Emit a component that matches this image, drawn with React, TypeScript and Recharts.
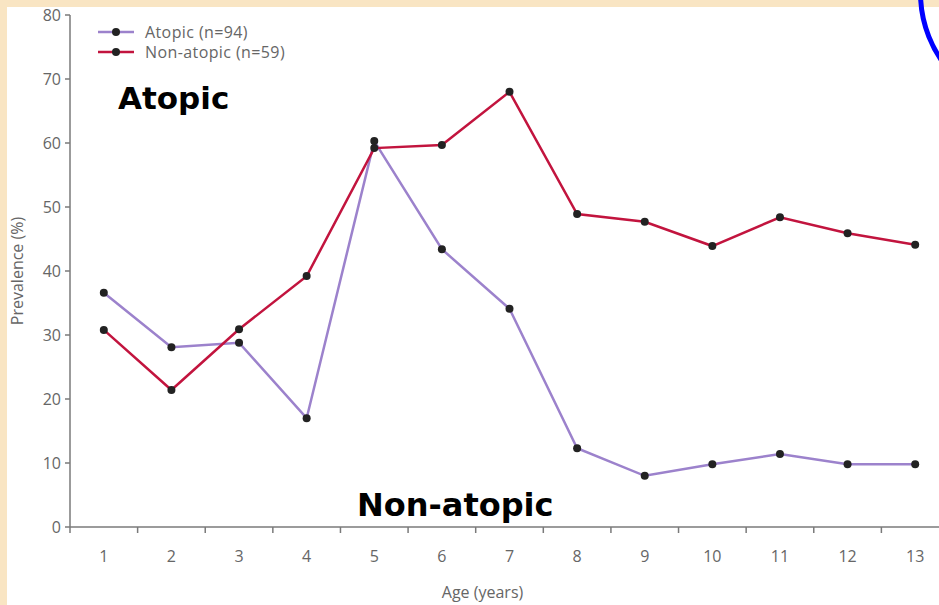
import React from "react"
import { LineChart, Line, XAxis, YAxis } from "recharts"

// ages 1..13
const ages = [1, 2, 3, 4, 5, 6, 7, 8, 9, 10, 11, 12, 13]
const atopic = [36.6, 28.1, 28.8, 17.0, 60.3, 43.4, 34.1, 12.3, 8.0, 9.8, 11.4, 9.8, 9.8]
const nonAtopic = [30.8, 21.4, 30.9, 39.2, 59.2, 59.7, 68.0, 48.9, 47.7, 43.9, 48.4, 45.9, 44.1]
const yTicks = [0, 10, 20, 30, 40, 50, 60, 70, 80]
// tick marks sit between the age labels
const xBoundaries = [0.5, 1.5, 2.5, 3.5, 4.5, 5.5, 6.5, 7.5, 8.5, 9.5, 10.5, 11.5, 12.5, 13.5]
const legendRows = [
  { name: "Atopic (n=94)", key: "atopic" },
  { name: "Non-atopic (n=59)", key: "nonAtopic" },
]

const data = ages.map((age, i) => ({ age, atopic: atopic[i], nonAtopic: nonAtopic[i] }))

const PURPLE = "#9c82cc"
const RED = "#c2143e"
const AXIS = "#7a7a7a"
const TEXT = "#666"
const FONT = "'Open Sans', sans-serif"
const colors: Record<string, string> = { atopic: PURPLE, nonAtopic: RED }

function AgeTick(props: any) {
  const { x, y, payload } = props
  const v = payload.value
  if (!Number.isInteger(v)) {
    return <line x1={x} x2={x} y1={y - 6} y2={y} stroke={AXIS} strokeWidth={1.5} />
  }
  return (
    <text x={x} y={y + 29} textAnchor="middle" fill={TEXT} fontSize={16} fontFamily={FONT}>
      {v}
    </text>
  )
}

function LegendBox() {
  return (
    <div style={{ position: "absolute", left: 96, top: 22, fontFamily: FONT, fontSize: 16, color: TEXT }}>
      {legendRows.map((r) => (
        <div key={r.key} style={{ display: "flex", alignItems: "center", height: 20, lineHeight: "18px" }}>
          <svg width={40} height={10} style={{ marginRight: 9 }}>
            <line x1={2} x2={38} y1={5} y2={5} stroke={colors[r.key]} strokeWidth={2.5} />
            <circle cx={20} cy={5} r={4} fill="#222" />
          </svg>
          <span style={{ letterSpacing: 0.4 }}>{r.name}</span>
        </div>
      ))}
    </div>
  )
}

const bigLabel: React.CSSProperties = {
  position: "absolute",
  fontFamily: "'DejaVu Sans', sans-serif",
  fontWeight: "bold",
  fontSize: 31,
  color: "#000",
}

export default function App() {
  return (
    <div
      style={{
        position: "fixed",
        left: 0,
        top: 0,
        width: 939,
        height: 605,
        overflow: "hidden",
        background: "#f9e5c3",
      }}
    >
      <div style={{ position: "absolute", left: 7, top: 7, right: 0, bottom: 0, background: "#fff" }} />
      <div style={{ position: "absolute", left: 0, top: 0 }}>
        <LineChart width={1000} height={605} data={data} margin={{ top: 15, right: 51, bottom: 48, left: 0 }}>
          <XAxis
            dataKey="age"
            type="number"
            domain={[0.5, 13.5]}
            ticks={[...xBoundaries, ...ages]}
            interval={0}
            tick={<AgeTick />}
            tickLine={false}
            tickSize={6}
            tickMargin={0}
            height={30}
            axisLine={{ stroke: AXIS, strokeWidth: 1.5 }}
            label={{
              value: "Age (years)",
              position: "bottom",
              offset: 30,
              dx: -27,
              fill: TEXT,
              fontSize: 16,
              fontFamily: FONT,
            }}
          />
          <YAxis
            domain={[0, 80]}
            ticks={yTicks}
            interval={0}
            width={70}
            tickSize={5}
            tickMargin={4}
            axisLine={{ stroke: AXIS, strokeWidth: 1.5 }}
            tickLine={{ stroke: AXIS, strokeWidth: 1.5 }}
            tick={{ fill: TEXT, fontSize: 16, fontFamily: FONT }}
            label={{
              value: "Prevalence (%)",
              angle: -90,
              position: "insideLeft",
              offset: 17,
              fill: TEXT,
              fontSize: 16,
              fontFamily: FONT,
              style: { textAnchor: "middle" },
            }}
          />
          <Line
            dataKey="atopic"
            stroke={PURPLE}
            strokeWidth={2.5}
            dot={{ r: 4, fill: "#222", stroke: "none" }}
            isAnimationActive={false}
          />
          <Line
            dataKey="nonAtopic"
            stroke={RED}
            strokeWidth={2.5}
            dot={{ r: 4, fill: "#222", stroke: "none" }}
            isAnimationActive={false}
          />
        </LineChart>
      </div>
      <LegendBox />
      <div style={{ ...bigLabel, left: 118, top: 80 }}>Atopic</div>
      <div style={{ ...bigLabel, left: 357, top: 486, fontSize: 32 }}>Non-atopic</div>
      <div
        style={{
          position: "absolute",
          left: 918,
          top: -128,
          width: 242,
          height: 242,
          borderRadius: "50%",
          border: "5px solid #0000ff",
          boxSizing: "border-box",
        }}
      />
    </div>
  )
}
